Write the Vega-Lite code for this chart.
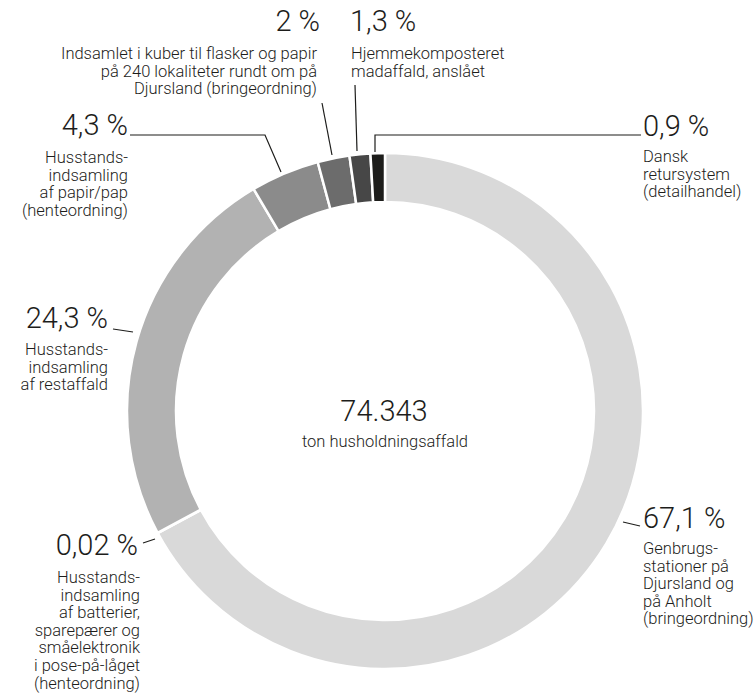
{
  "$schema": "https://vega.github.io/schema/vega-lite/v6.json",
  "width": 740,
  "height": 572,
  "autosize": {"type": "none"},
  "padding": {"left": 15, "top": 125, "right": 0, "bottom": 0},
  "background": "white",
  "config": {"view": {"stroke": null}, "font": "Roboto"},
  "datasets": {
    "segments": [
      {"cat": "Genbrugsstationer", "pct": 67.1, "ord": 1},
      {"cat": "Batterier", "pct": 0.02, "ord": 2},
      {"cat": "Restaffald", "pct": 24.3, "ord": 3},
      {"cat": "Papir/pap", "pct": 4.3, "ord": 4},
      {"cat": "Kuber", "pct": 2, "ord": 5},
      {"cat": "Hjemmekompost", "pct": 1.3, "ord": 6},
      {"cat": "Dansk retursystem", "pct": 0.9, "ord": 7}
    ],
    "leaders": [
      {"g": "papir", "seq": 1, "x": -255, "y": 276},
      {"g": "papir", "seq": 2, "x": -120, "y": 276},
      {"g": "papir", "seq": 3, "x": -104, "y": 239},
      {"g": "kuber", "seq": 1, "x": -63, "y": 308},
      {"g": "kuber", "seq": 2, "x": -53, "y": 256},
      {"g": "hjem", "seq": 1, "x": -30, "y": 326},
      {"g": "hjem", "seq": 2, "x": -28, "y": 260},
      {"g": "dansk", "seq": 1, "x": -10, "y": 259},
      {"g": "dansk", "seq": 2, "x": -10, "y": 276},
      {"g": "dansk", "seq": 3, "x": 256, "y": 276},
      {"g": "rest", "seq": 1, "x": -272, "y": 82},
      {"g": "rest", "seq": 2, "x": -252, "y": 79},
      {"g": "batt", "seq": 1, "x": -242, "y": -132},
      {"g": "batt", "seq": 2, "x": -230, "y": -128},
      {"g": "genbrug", "seq": 1, "x": 238, "y": -111},
      {"g": "genbrug", "seq": 2, "x": 255, "y": -115}
    ],
    "big": [
      {"t": "2 %", "a": "right", "x": -65, "y": 380},
      {"t": "1,3 %", "a": "left", "x": -35, "y": 380},
      {"t": "4,3 %", "a": "right", "x": -257, "y": 276},
      {"t": "0,9 %", "a": "left", "x": 258, "y": 275},
      {"t": "24,3 %", "a": "right", "x": -277, "y": 83},
      {"t": "0,02 %", "a": "right", "x": -247, "y": -144},
      {"t": "67,1 %", "a": "left", "x": 258, "y": -117}
    ],
    "desc": [
      {"t": "Indsamlet i kuber til flasker og papir\npå 240 lokaliteter rundt om på\nDjursland (bringeordning)", "a": "right", "x": -68, "y": 352},
      {"t": "Hjemmekomposteret\nmadaffald, anslået", "a": "left", "x": -34, "y": 352},
      {"t": "Husstands-\nindsamling\naf papir/pap\n(henteordning)", "a": "right", "x": -257, "y": 248},
      {"t": "Dansk\nretursystem\n(detailhandel)", "a": "left", "x": 258, "y": 249},
      {"t": "Husstands-\nindsamling\naf restaffald", "a": "right", "x": -277, "y": 56},
      {"t": "Husstands-\nindsamling\naf batterier,\nsparepærer og\nsmåelektronik\ni pose-på-låget\n(henteordning)", "a": "right", "x": -245, "y": -172},
      {"t": "Genbrugs-\nstationer på\nDjursland og\npå Anholt\n(bringeordning)", "a": "left", "x": 258, "y": -143}
    ],
    "center": [
      {"t": "74.343", "k": "num", "x": -1, "y": -10},
      {"t": "ton husholdningsaffald", "k": "sub", "x": 0, "y": -36}
    ]
  },
  "layer": [
    {
      "data": {"name": "segments"},
      "mark": {"type": "arc", "outerRadius": 258, "innerRadius": 209, "stroke": "white", "strokeWidth": 2.5},
      "encoding": {
        "theta": {"field": "pct", "type": "quantitative", "stack": true},
        "order": {"field": "ord", "type": "quantitative"},
        "color": {
          "field": "cat", "type": "nominal", "legend": null,
          "scale": {
            "domain": ["Genbrugsstationer", "Batterier", "Restaffald", "Papir/pap", "Kuber", "Hjemmekompost", "Dansk retursystem"],
            "range": ["#d9d9d9", "#999999", "#b2b2b2", "#8b8b8b", "#6c6c6c", "#474747", "#1d1d1b"]
          }
        }
      }
    },
    {
      "data": {"name": "leaders"},
      "mark": {"type": "line", "color": "#1d1d1b", "strokeWidth": 1.2},
      "encoding": {
        "x": {"field": "x", "type": "quantitative", "scale": {"domain": [-370, 370], "nice": false, "zero": false}, "axis": null},
        "y": {"field": "y", "type": "quantitative", "scale": {"domain": [-286, 286], "nice": false, "zero": false}, "axis": null},
        "detail": {"field": "g", "type": "nominal"},
        "order": {"field": "seq", "type": "quantitative"}
      }
    },
    {
      "data": {"name": "big"},
      "transform": [{"filter": "datum.a === 'right'"}],
      "mark": {"type": "text", "align": "right", "baseline": "alphabetic", "fontSize": 29, "fontWeight": 300, "color": "#1d1d1b"},
      "encoding": {
        "x": {"field": "x", "type": "quantitative"},
        "y": {"field": "y", "type": "quantitative"},
        "text": {"field": "t"}
      }
    },
    {
      "data": {"name": "big"},
      "transform": [{"filter": "datum.a === 'left'"}],
      "mark": {"type": "text", "align": "left", "baseline": "alphabetic", "fontSize": 29, "fontWeight": 300, "color": "#1d1d1b"},
      "encoding": {
        "x": {"field": "x", "type": "quantitative"},
        "y": {"field": "y", "type": "quantitative"},
        "text": {"field": "t"}
      }
    },
    {
      "data": {"name": "desc"},
      "transform": [{"filter": "datum.a === 'right'"}],
      "mark": {"type": "text", "align": "right", "baseline": "alphabetic", "fontSize": 16.5, "fontWeight": 300, "lineHeight": 17.6, "lineBreak": "\n", "color": "#1d1d1b"},
      "encoding": {
        "x": {"field": "x", "type": "quantitative"},
        "y": {"field": "y", "type": "quantitative"},
        "text": {"field": "t"}
      }
    },
    {
      "data": {"name": "desc"},
      "transform": [{"filter": "datum.a === 'left'"}],
      "mark": {"type": "text", "align": "left", "baseline": "alphabetic", "fontSize": 16.5, "fontWeight": 300, "lineHeight": 17.6, "lineBreak": "\n", "color": "#1d1d1b"},
      "encoding": {
        "x": {"field": "x", "type": "quantitative"},
        "y": {"field": "y", "type": "quantitative"},
        "text": {"field": "t"}
      }
    },
    {
      "data": {"name": "center"},
      "transform": [{"filter": "datum.k === 'num'"}],
      "mark": {"type": "text", "align": "center", "baseline": "alphabetic", "fontSize": 29, "fontWeight": 300, "color": "#1d1d1b"},
      "encoding": {
        "x": {"field": "x", "type": "quantitative"},
        "y": {"field": "y", "type": "quantitative"},
        "text": {"field": "t"}
      }
    },
    {
      "data": {"name": "center"},
      "transform": [{"filter": "datum.k === 'sub'"}],
      "mark": {"type": "text", "align": "center", "baseline": "alphabetic", "fontSize": 16.5, "fontWeight": 300, "color": "#1d1d1b"},
      "encoding": {
        "x": {"field": "x", "type": "quantitative"},
        "y": {"field": "y", "type": "quantitative"},
        "text": {"field": "t"}
      }
    }
  ]
}
